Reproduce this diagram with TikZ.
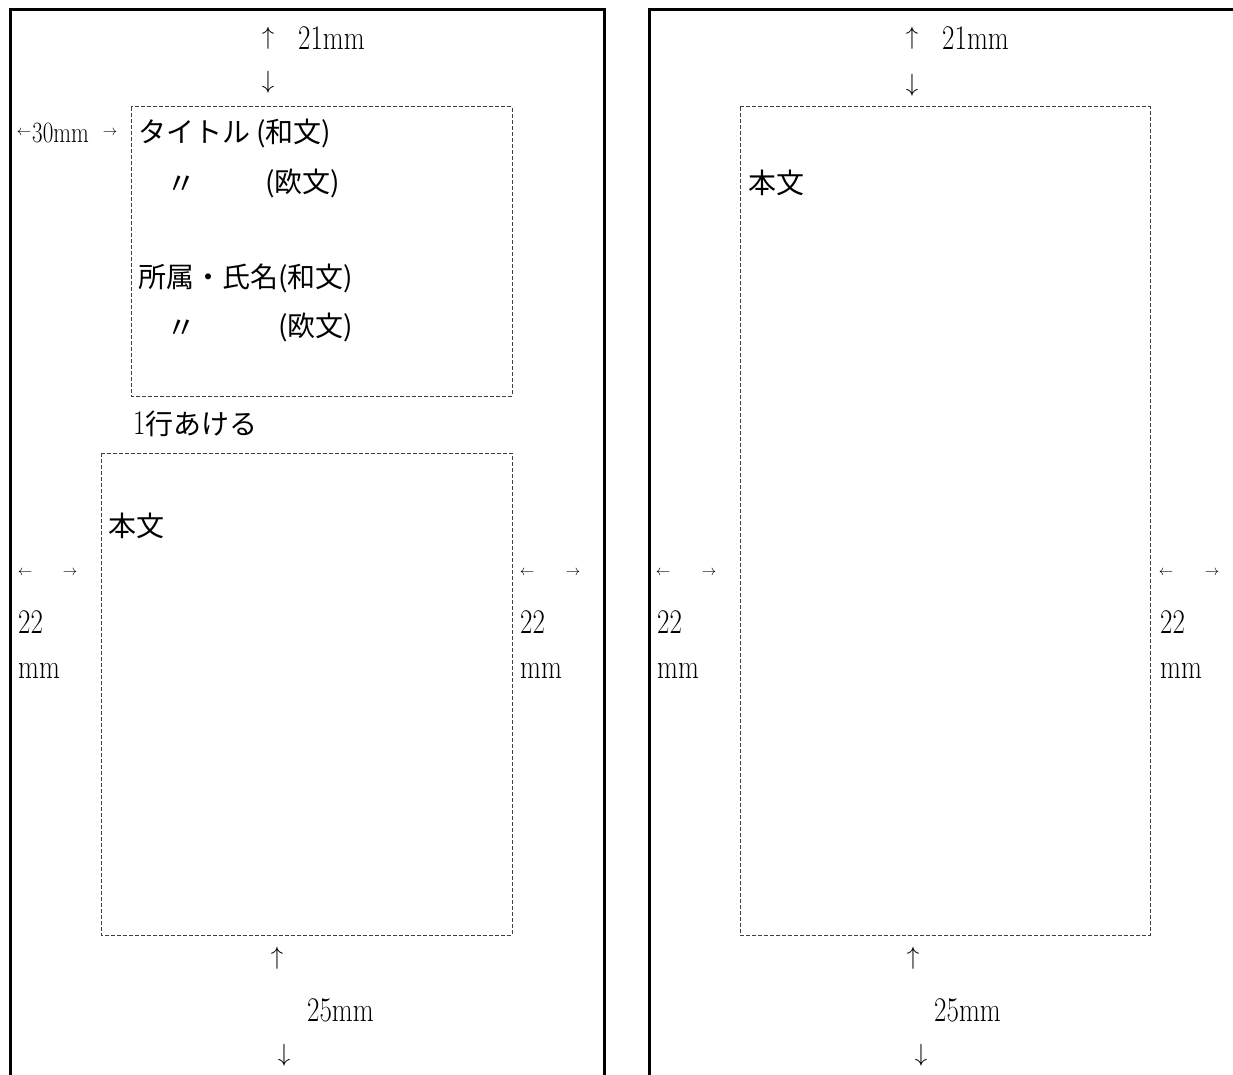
\documentclass[tikz,border=0pt]{standalone}
\usepackage{fontspec}
\newfontfamily\cjk{Noto Sans CJK JP}
\newcommand\lmtall[1]{\scalebox{1}[1.28]{#1}}
\begin{document}
\begin{tikzpicture}[x=1pt,y=-1pt,
  page/.style={line width=3pt,line join=miter},
  dbox/.style={line width=1pt,draw=black!75,dash pattern=on 4pt off 2pt},
  lat/.style={anchor=west,inner sep=0pt,font=\fontsize{27}{30}\selectfont},
  jp/.style={anchor=west,inner sep=0pt,font=\cjk\fontsize{28}{34}\selectfont},
  varr/.style={inner sep=0pt,font=\fontsize{30}{34}\selectfont},
  harr/.style={inner sep=0pt,font=\fontsize{15}{16}\selectfont},
  ditto/.style={inner sep=0pt,font=\cjk\fontsize{30}{34}\selectfont}]
\useasboundingbox (0,0) rectangle (1233,1075);
% page borders
\draw[page] (10,1076) -- (10,10) -- (604,10) -- (604,1076);
\draw[page] (649,1076) -- (649,10) -- (1240,10);
% dashed frames
\draw[dbox] (131,107) rectangle (512,396);
\draw[dbox] (101,453) rectangle (512,935);
\draw[dbox] (740,107) rectangle (1150,935);
% ---- left page ----
\node[varr] (lu1) at (268,38) {$\uparrow$};
\node[lat] (l21) at (298,38) {\lmtall{21mm}};
\node[varr] (ld1) at (268,82) {$\downarrow$};
\node[harr] (la30l) at (24,133) {$\leftarrow$};
\node[lat,font=\fontsize{23}{28}\selectfont] (l30) at (32,133) {\lmtall{30mm}};
\node[harr] (la30r) at (110,133) {$\rightarrow$};
\node[jp] (ltitle) at (138,133) {タイトル (和文)};
\node[ditto] (ldit1) at (181,185) {〃};
\node[jp] (ltitleE) at (265,183) {(欧文)};
\node[jp] (laff) at (138,278) {所属・氏名(和文)};
\node[ditto] (ldit2) at (181,329) {〃};
\node[jp] (laffE) at (278,327) {(欧文)};
\node[jp] (lgap) at (133,424) {{\rmfamily\fontsize{27}{30}\selectfont\lmtall{1}}行あける};
\node[jp] (lbody) at (108,526) {本文};
\node[harr] (lla) at (25,573) {$\leftarrow$};
\node[harr] (llb) at (70,573) {$\rightarrow$};
\node[lat] (ll22) at (18,622) {\lmtall{22}};
\node[lat] (llmm) at (18,671) {\lmtall{mm}};
\node[harr] (lra) at (527,573) {$\leftarrow$};
\node[harr] (lrb) at (573,573) {$\rightarrow$};
\node[lat] (lr22) at (520,622) {\lmtall{22}};
\node[lat] (lrmm) at (520,671) {\lmtall{mm}};
\node[varr] (lu2) at (277,958) {$\uparrow$};
\node[lat] (l25) at (307,1010) {\lmtall{25mm}};
\node[varr] (ld2) at (284,1055) {$\downarrow$};
% ---- right page ----
\node[varr] (ru1) at (912,38) {$\uparrow$};
\node[lat] (r21) at (942,38) {\lmtall{21mm}};
\node[varr] (rd1) at (912,85) {$\downarrow$};
\node[jp] (rbody) at (748,183) {本文};
\node[harr] (rla) at (663,573) {$\leftarrow$};
\node[harr] (rlb) at (709,573) {$\rightarrow$};
\node[lat] (rl22) at (657,622) {\lmtall{22}};
\node[lat] (rlmm) at (657,671) {\lmtall{mm}};
\node[harr] (rra) at (1166,573) {$\leftarrow$};
\node[harr] (rrb) at (1212,573) {$\rightarrow$};
\node[lat] (rr22) at (1160,622) {\lmtall{22}};
\node[lat] (rrmm) at (1160,671) {\lmtall{mm}};
\node[varr] (ru2) at (913,958) {$\uparrow$};
\node[lat] (r25) at (934,1010) {\lmtall{25mm}};
\node[varr] (rd2) at (921,1055) {$\downarrow$};
\end{tikzpicture}
\end{document}
